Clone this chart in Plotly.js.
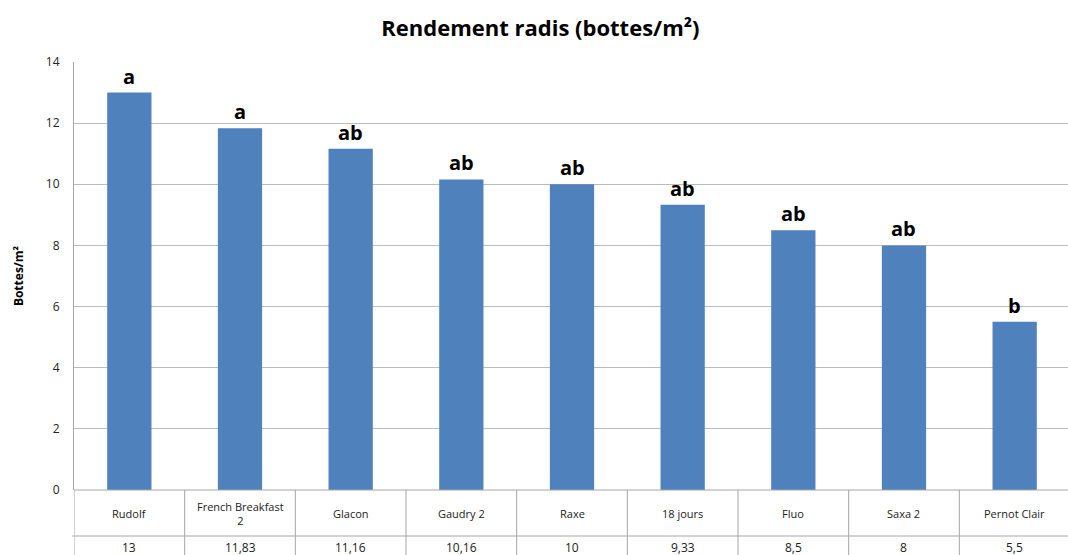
<!DOCTYPE html>
<html>
<head>
<meta charset="utf-8">
<script src="https://cdn.plot.ly/plotly-3.0.1.min.js"></script>
<style>html,body{margin:0;padding:0;background:#fff;}#chart{width:1068px;height:555px;}</style>
</head>
<body>
<div id="chart"></div>
<script>
const categories = ["Rudolf", "French Breakfast<br>2", "Glacon", "Gaudry 2", "Raxe", "18 jours", "Fluo", "Saxa 2", "Pernot Clair"];
const values = [13, 11.83, 11.16, 10.16, 10, 9.33, 8.5, 8, 5.5];
const letters = ["a", "a", "ab", "ab", "ab", "ab", "ab", "ab", "b"];
const yTicks = [0, 2, 4, 6, 8, 10, 12, 14];

const FONT = "'Open Sans', Lato, sans-serif";
const idx = categories.map((c, i) => i);

const trace = {
  type: "bar",
  x: idx,
  y: values,
  marker: {color: "#4F81BD", line: {width: 0}},
  width: 0.4,
  hoverinfo: "skip"
};

const annotations = [];
// significance letters
idx.forEach(i => {
  annotations.push({
    x: i, y: values[i], xref: "x", yref: "y",
    text: "<b>" + letters[i] + "</b>", showarrow: false,
    yanchor: "bottom", yshift: 1,
    font: {family: FONT, size: 20, color: "#000"}
  });
});
// data table: category labels and values
const row1Y = -23 / 428;   // paper units relative to plot height
const row2Y = -57 / 428;
idx.forEach(i => {
  annotations.push({
    x: i, y: row1Y, xref: "x", yref: "paper",
    text: categories[i], showarrow: false, yanchor: "middle",
    font: {family: FONT, size: 11, color: "#222"}
  });
  annotations.push({
    x: i, y: row2Y, xref: "x", yref: "paper",
    text: String(values[i]).replace(".", ","), showarrow: false, yanchor: "middle",
    borderpad: 0,
    font: {family: FONT, size: 12, color: "#222"}
  });
});

const shapes = [];
const lineStyle = {color: "#a6a6a6", width: 1};
// horizontal table lines
shapes.push({type: "line", xref: "paper", yref: "paper", x0: 0, x1: 1, y0: 0, y1: 0, line: lineStyle});
shapes.push({type: "line", xref: "paper", yref: "paper", x0: -0.002, x1: 1, y0: -46 / 428, y1: -46 / 428, line: lineStyle});
// vertical table lines at category boundaries
for (let k = 0; k <= categories.length; k++) {
  shapes.push({type: "line", xref: "x", yref: "paper", x0: k - 0.5, x1: k - 0.5, y0: 0, y1: -0.2, line: lineStyle});
}

const layout = {
  width: 1068, height: 555,
  margin: {l: 74, r: 0, t: 62, b: 65},
  paper_bgcolor: "#fff", plot_bgcolor: "#fff",
  title: {
    text: "<b>Rendement radis (bottes/m²)</b>",
    font: {family: FONT, size: 22, color: "#000"},
    xref: "container", x: 0.506, xanchor: "center",
    yref: "container", y: 1 - 28 / 555, yanchor: "middle"
  },
  showlegend: false,
  xaxis: {
    range: [-0.5, 8.482],
    showticklabels: false, showgrid: false, zeroline: false, showline: false, ticks: ""
  },
  yaxis: {
    range: [0, 14], tickvals: yTicks, ticktext: yTicks.map(String),
    showgrid: true, gridcolor: "#bcbcbc", gridwidth: 1,
    zeroline: false, showline: true, linecolor: "#a6a6a6", linewidth: 1,
    ticks: "", ticklen: 0, ticklabelstandoff: 11,
    tickfont: {family: FONT, size: 12, color: "#222"},
    title: {text: "<b>Bottes/m²</b>", font: {family: FONT, size: 12, color: "#000"}, standoff: 19}
  },
  annotations: annotations,
  shapes: shapes
};

Plotly.newPlot("chart", [trace], layout, {displayModeBar: false, staticPlot: true});
</script>
</body>
</html>
